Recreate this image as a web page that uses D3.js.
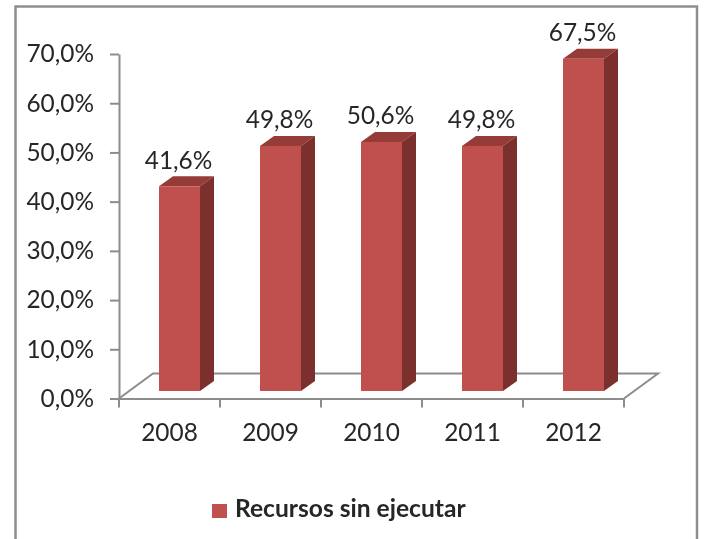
<!DOCTYPE html>
<html><head><meta charset="utf-8">
<script src="https://cdn.jsdelivr.net/npm/d3@7"></script>
<style>html,body{margin:0;padding:0;background:#fff}svg{display:block}text{font-family:Lato,sans-serif;fill:#262626}</style>
</head><body><svg id="c" width="704" height="539"></svg>
<script>
const categories=["2008","2009","2010","2011","2012"];
const seriesName="Recursos sin ejecutar";
const values=[41.6,49.8,50.6,49.8,67.5];
const valueLabels=["41,6%","49,8%","50,6%","49,8%","67,5%"];
const yTicks=[0,10,20,30,40,50,60,70];
const yTickLabels=["0,0%","10,0%","20,0%","30,0%","40,0%","50,0%","60,0%","70,0%"];

const svg=d3.select("#c");
const axisCol="#8c8c8c";
const fontSize=24.4;
const y=d3.scaleLinear().domain([0,70]).range([398.5,54]);
const x=d3.scaleBand().domain(categories).range([119,624]);
const depth={dx:34,dy:-25}, front={dx:10,dy:-7.5}, side={dx:14,dy:-10};
const barW=41;

const soft=svg.append("defs").append("filter").attr("id","soft").attr("x","-5%").attr("y","-5%").attr("width","110%").attr("height","110%");
soft.append("feGaussianBlur").attr("stdDeviation",0.45);

// frame
svg.append("path").attr("d","M15.5,539V6.5H697V539").attr("fill","none").attr("stroke","#8f8f8f").attr("stroke-width",2.5);

// floor
const y0=y(0);
svg.append("path").attr("fill","none").attr("stroke",axisCol).attr("stroke-width",2)
 .attr("d",`M${x.range()[0]},${y0}L${x.range()[0]+depth.dx},${y0+depth.dy}H${x.range()[1]+depth.dx}L${x.range()[1]},${y0}`);

// axes
const ga=svg.append("g").attr("transform",`translate(119,0)`)
 .call(d3.axisLeft(y).tickValues(yTicks).tickFormat((d,i)=>yTickLabels[i]).tickSize(9).tickSizeOuter(0).tickPadding(16));
const gb=svg.append("g").attr("transform",`translate(0,${y0})`)
 .call(d3.axisBottom(x).tickSize(9).tickSizeOuter(0).tickPadding(14));
gb.selectAll(".tick line").remove();
gb.selectAll(".edge").data(categories.concat("end")).enter().append("line").attr("class","edge")
 .attr("x1",(d,i)=>i<5?x(d):x.range()[1]).attr("x2",(d,i)=>i<5?x(d):x.range()[1]).attr("y1",0).attr("y2",9)
 .attr("stroke",axisCol).attr("stroke-width",2);
for(const g of [ga,gb]){
 g.selectAll(".domain").attr("stroke",axisCol).attr("stroke-width",2);
 g.selectAll(".tick line").attr("stroke",axisCol).attr("stroke-width",2);
 g.selectAll("text").attr("font-size",fontSize).attr("font-family","Lato,sans-serif").attr("fill","#262626").attr("filter","url(#soft)");
}
gb.selectAll(".tick text").attr("dy","0.78em");

// bars
const bars=svg.append("g").selectAll("g").data(values).enter().append("g")
 .attr("transform",(d,i)=>`translate(${x(categories[i])+x.bandwidth()/2+front.dx-barW/2},${front.dy})`);
bars.append("path").attr("fill","#953c39")
 .attr("d",d=>`M0,${y(d)}l${side.dx},${side.dy}h${barW}l${-side.dx},${-side.dy}z`);
bars.append("path").attr("fill","#7c302e")
 .attr("d",d=>`M${barW},${y(d)}l${side.dx},${side.dy}V${y0+side.dy}l${-side.dx},${-side.dy}z`);
bars.append("rect").attr("fill","#c0504d").attr("x",0).attr("width",barW).attr("y",d=>y(d)).attr("height",d=>y0-y(d));

// value labels
svg.append("g").selectAll("text").data(values).enter().append("text")
 .attr("x",(d,i)=>x(categories[i])+x.bandwidth()/2+front.dx-1)
 .attr("y",d=>y(d)-25).attr("text-anchor","middle").attr("font-size",fontSize).attr("filter","url(#soft)")
 .text((d,i)=>valueLabels[i]);

// legend
svg.append("rect").attr("x",212).attr("y",504).attr("width",15).attr("height",14).attr("fill","#c0504d");
svg.append("text").attr("x",235).attr("y",516.5).attr("font-size",24.6).attr("font-weight",700).attr("filter","url(#soft)").text(seriesName);
</script></body></html>
